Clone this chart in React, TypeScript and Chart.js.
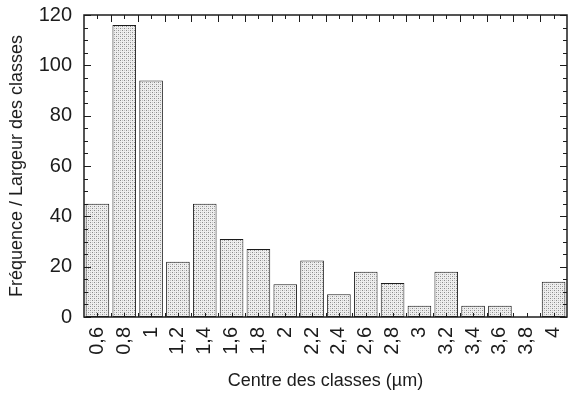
import React, { useEffect, useRef } from "react";
import { Chart, registerables } from "chart.js";

Chart.register(...registerables);

const categories = ["0,6", "0,8", "1", "1,2", "1,4", "1,6", "1,8", "2", "2,2", "2,4", "2,6", "2,8", "3", "3,2", "3,4", "3,6", "3,8", "4"];
const values = [45, 116, 94, 22, 45, 31, 27, 13, 22.5, 9, 18, 13.5, 4.5, 18, 4.5, 4.5, 0, 14];
const yTicks = [0, 20, 40, 60, 80, 100, 120];
const yMinorStep = 5;
const yTitle = "Fréquence / Largeur des classes";
const xTitle = "Centre des classes (µm)";

const FONT = "'Liberation Sans', Arial, Helvetica, sans-serif";
const INK = "#1c1c1c";

function makePattern(): CanvasPattern | string {
  const c = document.createElement("canvas");
  c.width = 4;
  c.height = 4;
  const g = c.getContext("2d");
  if (!g) return "#d4d4d4";
  g.fillStyle = "#eeeeee";
  g.fillRect(0, 0, 4, 4);
  g.fillStyle = "#8a8a8a";
  g.fillRect(0, 0, 1, 1);
  g.fillRect(2, 2, 1, 1);
  g.fillStyle = "#c4c4c4";
  g.fillRect(2, 0, 1, 1);
  g.fillRect(0, 2, 1, 1);
  const p = g.createPattern(c, "repeat");
  return p || "#d4d4d4";
}

const framePlugin = {
  id: "frameTicks",
  afterDatasetsDraw(chart: any) {
    const { ctx, chartArea } = chart;
    const { left, right, top, bottom } = chartArea;
    const xs = chart.scales.x;
    const ys = chart.scales.y;
    ctx.save();
    ctx.strokeStyle = INK;
    ctx.lineWidth = 1;
    for (let v = ys.min; v <= ys.max; v += yMinorStep) {
      const y = Math.round(ys.getPixelForValue(v)) + 0.5;
      const major = v % 20 === 0;
      const len = major ? 7 : 4;
      ctx.beginPath();
      ctx.moveTo(left, y);
      ctx.lineTo(left + len, y);
      ctx.moveTo(right, y);
      ctx.lineTo(right - len, y);
      ctx.stroke();
    }
    const n = categories.length;
    for (let i = 0; i < n; i++) {
      const c = xs.getPixelForValue(i);
      const b = i > 0 ? (xs.getPixelForValue(i - 1) + c) / 2 : left;
      const cx = Math.round(c) + 0.5;
      const bx = Math.round(b) + 0.5;
      ctx.beginPath();
      if (i > 0) {
        ctx.moveTo(bx, top);
        ctx.lineTo(bx, top + 7);
      }
      ctx.moveTo(cx, top);
      ctx.lineTo(cx, top + 4);
      ctx.moveTo(cx, bottom);
      ctx.lineTo(cx, bottom - 4);
      if (i > 0) {
        ctx.moveTo(bx, bottom);
        ctx.lineTo(bx, bottom - 4);
      }
      ctx.stroke();
    }
    ctx.lineWidth = 1.5;
    ctx.strokeRect(left, top, right - left, bottom - top);
    ctx.restore();
  },
};

export default function App() {
  const ref = useRef<HTMLCanvasElement>(null);
  useEffect(() => {
    if (!ref.current) return;
    const chart = new Chart(ref.current, {
      type: "bar",
      data: {
        labels: categories,
        datasets: [
          {
            data: values,
            backgroundColor: makePattern() as any,
            borderColor: INK,
            borderWidth: 1,
            borderSkipped: false,
            barPercentage: 0.88,
            categoryPercentage: 1,
          },
        ],
      },
      options: {
        responsive: false,
        animation: false,
        devicePixelRatio: 1,
        layout: { padding: { top: 15, right: 2, left: 0, bottom: 0 } },
        plugins: { legend: { display: false }, tooltip: { enabled: false } },
        scales: {
          x: {
            grid: { display: false, drawTicks: false },
            border: { display: false },
            ticks: {
              autoSkip: false,
              minRotation: 90,
              maxRotation: 90,
              padding: 10,
              color: INK,
              font: { family: FONT, size: 20 },
            },
            title: {
              display: true,
              text: xTitle,
              color: INK,
              font: { family: FONT, size: 18 },
              padding: { top: 0, bottom: 2 },
            },
            afterFit: (s: any) => {
              s.height = 77;
              s.paddingLeft = 0;
              s.paddingRight = 0;
            },
          },
          y: {
            min: 0,
            max: 120,
            grid: { display: false, drawTicks: false },
            border: { display: false },
            afterBuildTicks: (s: any) => {
              s.ticks = yTicks.map((v) => ({ value: v }));
            },
            ticks: {
              padding: 12,
              color: INK,
              font: { family: FONT, size: 20 },
            },
            title: {
              display: true,
              text: yTitle,
              color: INK,
              font: { family: FONT, size: 18 },
              padding: { top: 6, bottom: 0 },
            },
            afterFit: (s: any) => {
              s.width = 84;
              s.paddingTop = 0;
              s.paddingBottom = 0;
            },
          },
        },
      },
      plugins: [framePlugin],
    });
    return () => chart.destroy();
  }, []);
  return (
    <div style={{ position: "absolute", left: 0, top: 0, width: 569, height: 394, background: "#fff" }}>
      <canvas ref={ref} width={569} height={394} style={{ display: "block" }} />
    </div>
  );
}
